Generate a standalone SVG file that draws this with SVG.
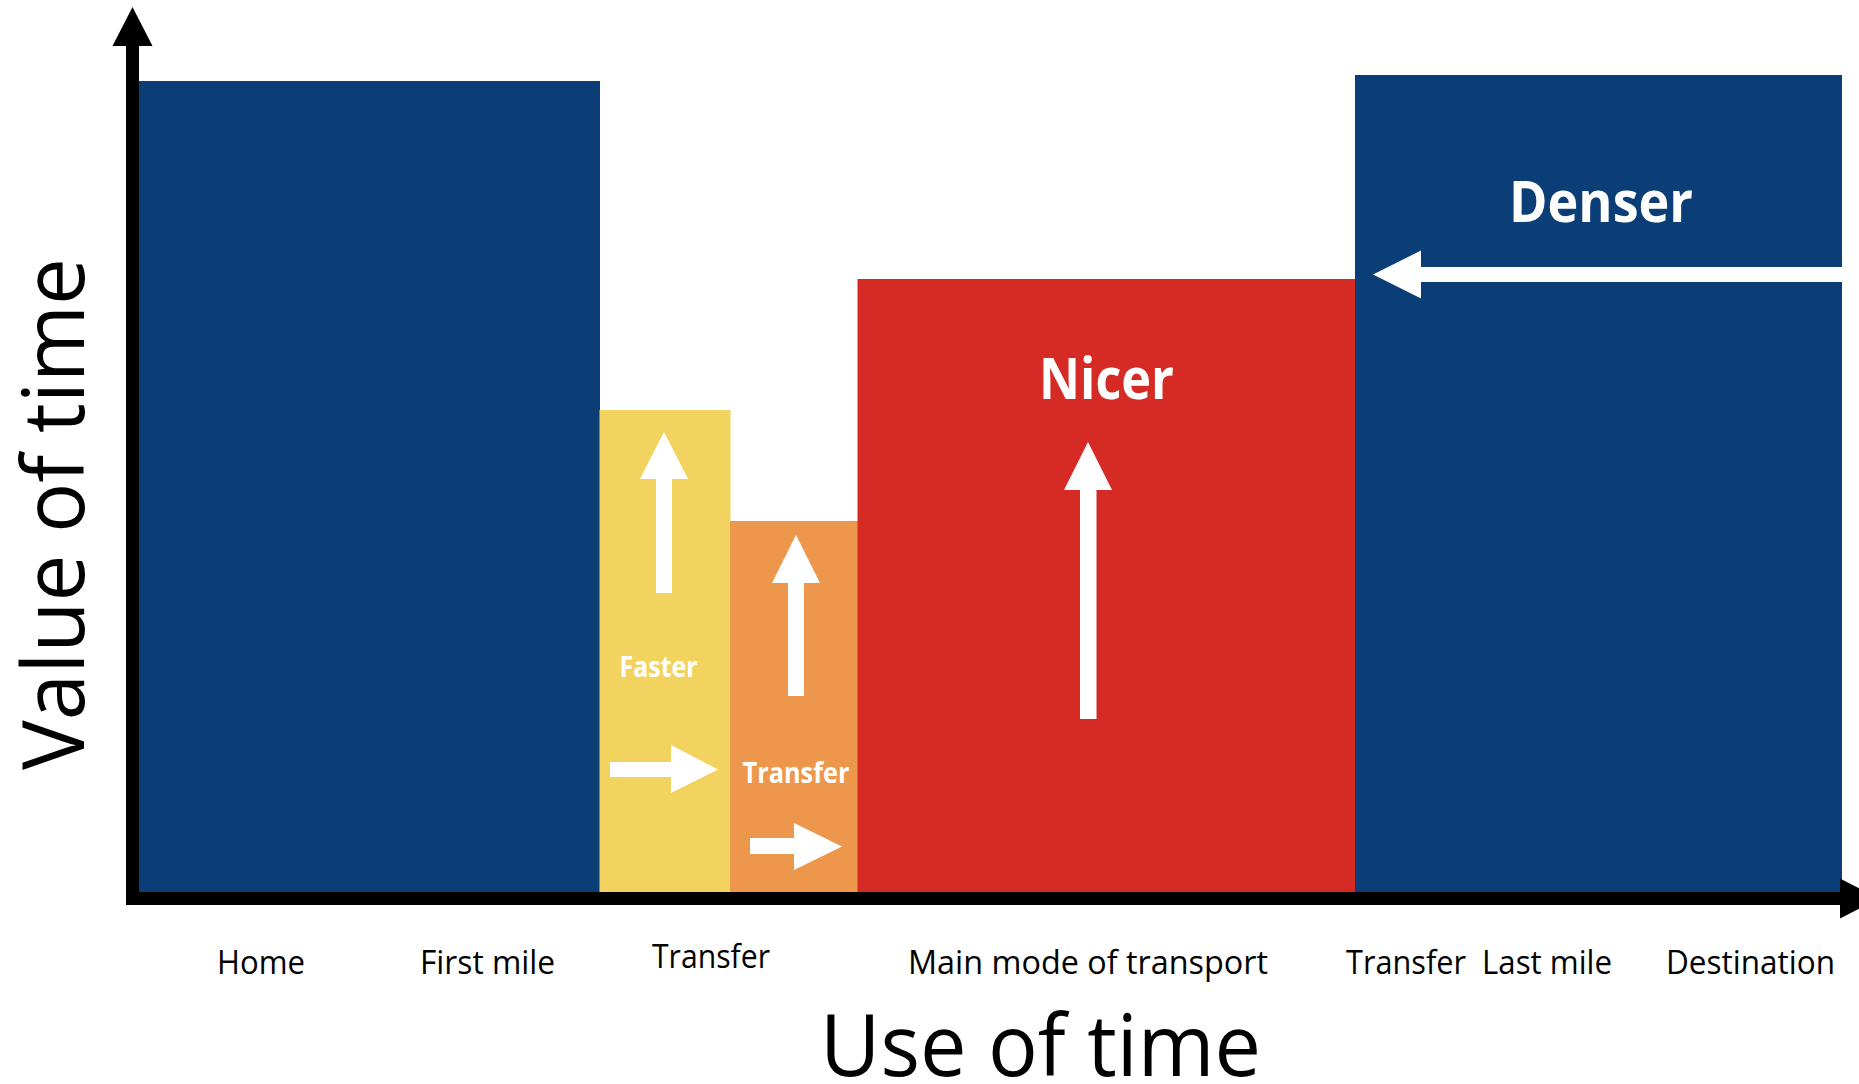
<svg xmlns="http://www.w3.org/2000/svg" width="1859" height="1084" viewBox="0 0 1859 1084">
  <style>
    .lbl { font-family: "Open Sans", "Noto Sans", sans-serif; font-size: 32.5px; fill: #000; }
    .big { font-family: "Open Sans", "Noto Sans", sans-serif; font-size: 86px; fill: #000; }
    .wbig { font-family: "Open Sans", "Noto Sans", sans-serif; font-size: 56.5px; font-weight: bold; fill: #fff; }
    .wsm { font-family: "Open Sans", "Noto Sans", sans-serif; font-size: 28px; font-weight: bold; fill: #fff; }
    .arrow { fill: #fff; }
    .axis { fill: #000; }
  </style>
  <rect width="1859" height="1084" fill="#fff"/>

  <g id="home-first-mile">
    <rect x="139" y="81" width="461" height="811" fill="#0B3D76"/>
  </g>
  <g id="transfer-faster">
    <rect x="599.5" y="410" width="131" height="482" fill="#F2D35F"/>
    <text class="wsm" x="619.5" y="677" textLength="78" lengthAdjust="spacingAndGlyphs">Faster</text>
  </g>
  <g id="transfer-orange">
    <rect x="730" y="521" width="128" height="371" fill="#ED974D"/>
    <text class="wsm" x="742.5" y="783" textLength="107" lengthAdjust="spacingAndGlyphs">Transfer</text>
  </g>
  <g id="main-mode-nicer">
    <rect x="857.5" y="279" width="498" height="613" fill="#D62A24"/>
    <text class="wbig" x="1039" y="399" textLength="135" lengthAdjust="spacingAndGlyphs">Nicer</text>
  </g>
  <g id="last-mile-denser">
    <rect x="1355" y="75" width="487" height="817" fill="#0B3D76"/>
    <text class="wbig" x="1509" y="222" textLength="184" lengthAdjust="spacingAndGlyphs">Denser</text>
  </g>

  <g id="connectors">
    <polygon class="arrow" points="664,432 688,479 672,479 672,593 656,593 656,479 640,479"/>
    <polygon class="arrow" points="796,535 820,583 804,583 804,696 788,696 788,583 772,583"/>
    <polygon class="arrow" points="1088,442 1112,490 1096.5,490 1096.5,719 1080,719 1080,490 1064,490"/>
    <polygon class="arrow" points="610,762 671,762 671,745 718,769.5 671,793 671,777 610,777"/>
    <polygon class="arrow" points="750,838 794,838 794,823 842,846.5 794,870 794,854 750,854"/>
    <polygon class="arrow" points="1842,267 1421,267 1421,250.5 1373,274.5 1421,298.5 1421,282 1842,282"/>
  </g>

  <g id="axes">
    <rect class="axis" x="126" y="44" width="13" height="861"/>
    <polygon class="axis" points="132.5,7 152.5,46 112.5,46"/>
    <rect class="axis" x="126" y="892" width="1716" height="13"/>
    <polygon class="axis" points="1840,878.5 1879,898.5 1840,918.5"/>
  </g>

  <g id="labels">
    <text class="lbl" x="217" y="974" textLength="88" lengthAdjust="spacingAndGlyphs">Home</text>
    <text class="lbl" x="420" y="974" textLength="135" lengthAdjust="spacingAndGlyphs">First mile</text>
    <text class="lbl" x="652" y="968" textLength="118" lengthAdjust="spacingAndGlyphs">Transfer</text>
    <text class="lbl" x="908" y="974" textLength="360" lengthAdjust="spacingAndGlyphs">Main mode of transport</text>
    <text class="lbl" x="1346" y="974" textLength="120" lengthAdjust="spacingAndGlyphs">Transfer</text>
    <text class="lbl" x="1482" y="974" textLength="130" lengthAdjust="spacingAndGlyphs">Last mile</text>
    <text class="lbl" x="1666" y="974" textLength="169" lengthAdjust="spacingAndGlyphs">Destination</text>
    <text class="big" x="820" y="1076" textLength="441" lengthAdjust="spacingAndGlyphs">Use of time</text>
    <text class="big" transform="translate(84,770) rotate(-90)" x="0" y="0" textLength="512" lengthAdjust="spacingAndGlyphs">Value of time</text>
  </g>
</svg>
